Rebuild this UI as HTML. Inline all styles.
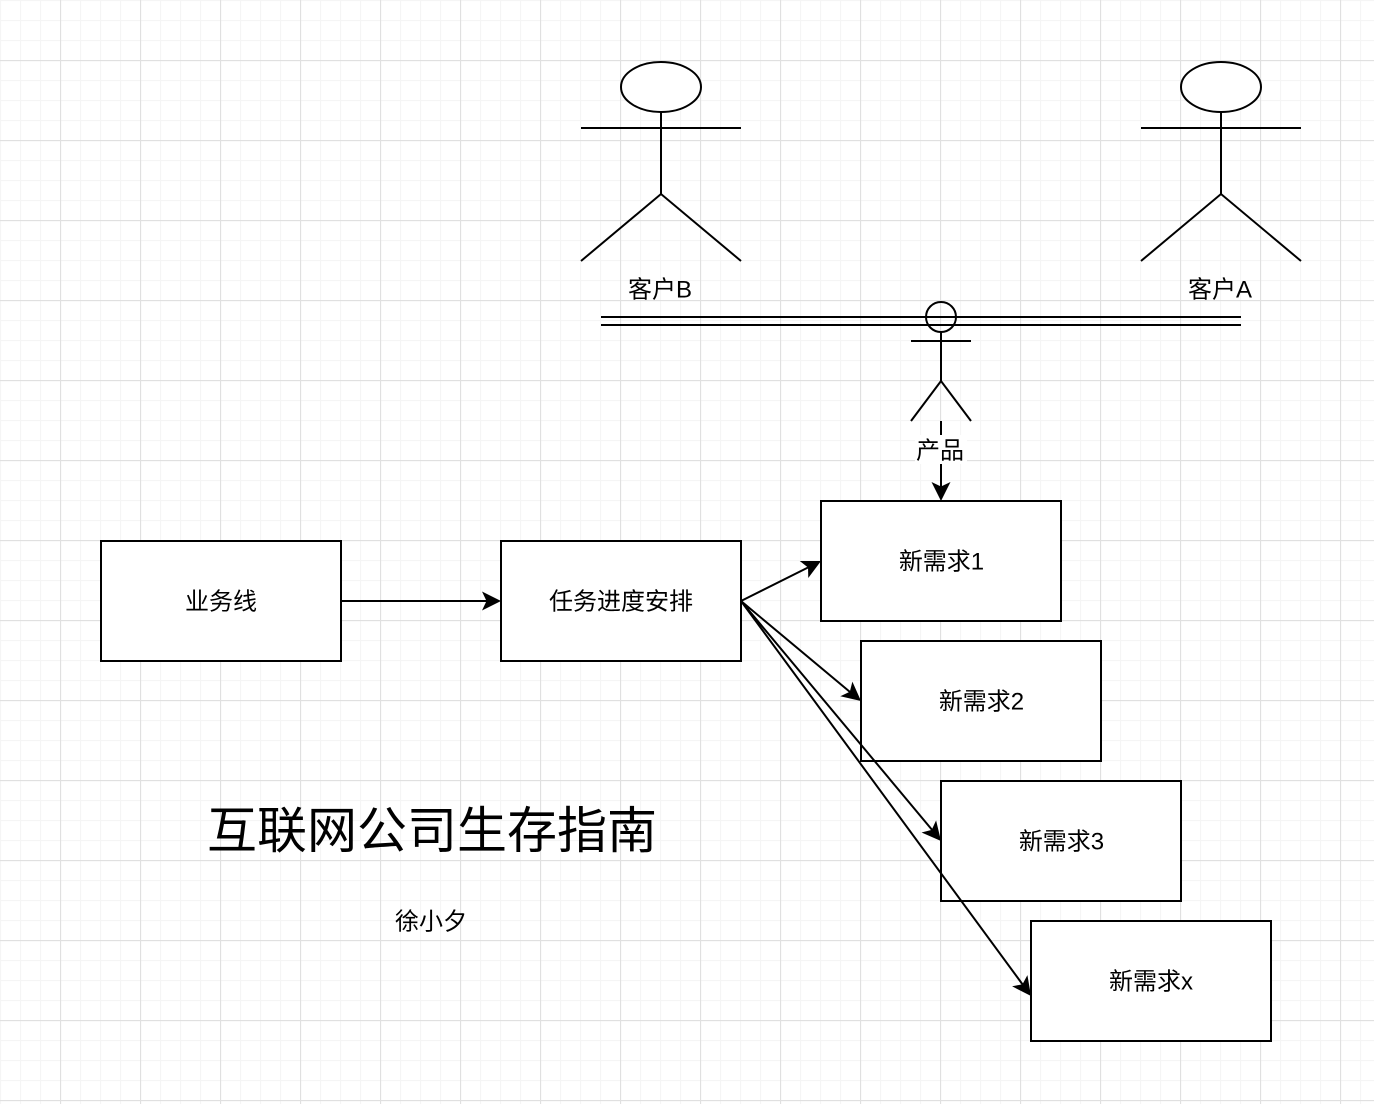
<!DOCTYPE html>
<html><head><meta charset="utf-8"><style>
html,body{margin:0;padding:0;background:#fff}
svg{display:block}
text{font-family:"Liberation Sans","Noto Sans CJK SC",sans-serif;fill:#000;text-anchor:middle;dominant-baseline:central}
</style></head><body>
<svg width="1374" height="1104" viewBox="0 0 1374 1104" xmlns="http://www.w3.org/2000/svg">
<defs>
<pattern id="mi" width="20" height="20" patternUnits="userSpaceOnUse"><path d="M.5 0V20M0 .5H20" stroke="#f5f5f5" stroke-width="1.2" fill="none"/></pattern>
<pattern id="ma" x="60" y="60" width="80" height="80" patternUnits="userSpaceOnUse"><path d="M.5 0V80M0 .5H80" stroke="#e0e0e0" stroke-width="1.2" fill="none"/></pattern>
<g id="actor" fill="none" stroke="#000" stroke-width="2"><ellipse cx="661" cy="87" rx="40" ry="25" fill="#fff"/><path d="M661 112V194M581 128H741M581 261L661 194L741 261"/></g>
<path id="ah" d="M0 0L-19-9.5L-14.5 0L-19 9.5Z" fill="#000"/>
</defs>
<rect width="1374" height="1104" fill="#fff"/>
<rect width="1374" height="1104" fill="url(#mi)"/>
<rect width="1374" height="1104" fill="url(#ma)"/>

<use href="#actor"/>
<use href="#actor" x="560"/>
<text x="660" y="290" font-size="24">客户B</text>
<text x="1220" y="290" font-size="24">客户A</text>

<g fill="none" stroke="#000" stroke-width="2">
<path d="M601 317H1241M601 325H1241"/>
<circle cx="941" cy="317" r="15"/>
<path d="M941 332V381M911 341H971M911 421L941 381L971 421"/>
<path d="M941 421V488"/>
</g>
<rect x="915" y="435" width="52" height="29" fill="#fff"/>
<text x="940" y="451" font-size="24">产品</text>

<g fill="#fff" stroke="#000" stroke-width="2">
<rect x="101" y="541" width="240" height="120"/>
<rect x="501" y="541" width="240" height="120"/>
<rect x="821" y="501" width="240" height="120"/>
<rect x="861" y="641" width="240" height="120"/>
<rect x="941" y="781" width="240" height="120"/>
<rect x="1031" y="921" width="240" height="120"/>
</g>
<g font-size="24">
<text x="221" y="602">业务线</text>
<text x="621" y="602">任务进度安排</text>
<text x="941.5" y="562">新需求1</text>
<text x="981.5" y="702">新需求2</text>
<text x="1061.5" y="842">新需求3</text>
<text x="1151" y="982">新需求x</text>
</g>
<text x="432" y="831" font-size="50">互联网公司生存指南</text>
<text x="431" y="922" font-size="24">徐小夕</text>

<g fill="none" stroke="#000" stroke-width="2">
<path d="M341 601H488M741 601L809 567M741 601L850 692M741 601L933 831M741 601L1023 985"/>
</g>
<use href="#ah" transform="translate(941 501) rotate(90)"/>
<use href="#ah" transform="translate(501 601)"/>
<use href="#ah" transform="translate(821 561) rotate(-26.6)"/>
<use href="#ah" transform="translate(861 701) rotate(39.5)"/>
<use href="#ah" transform="translate(941 841) rotate(50.1)"/>
<use href="#ah" transform="translate(1031 996) rotate(53.7)"/>
</svg>
</body></html>
